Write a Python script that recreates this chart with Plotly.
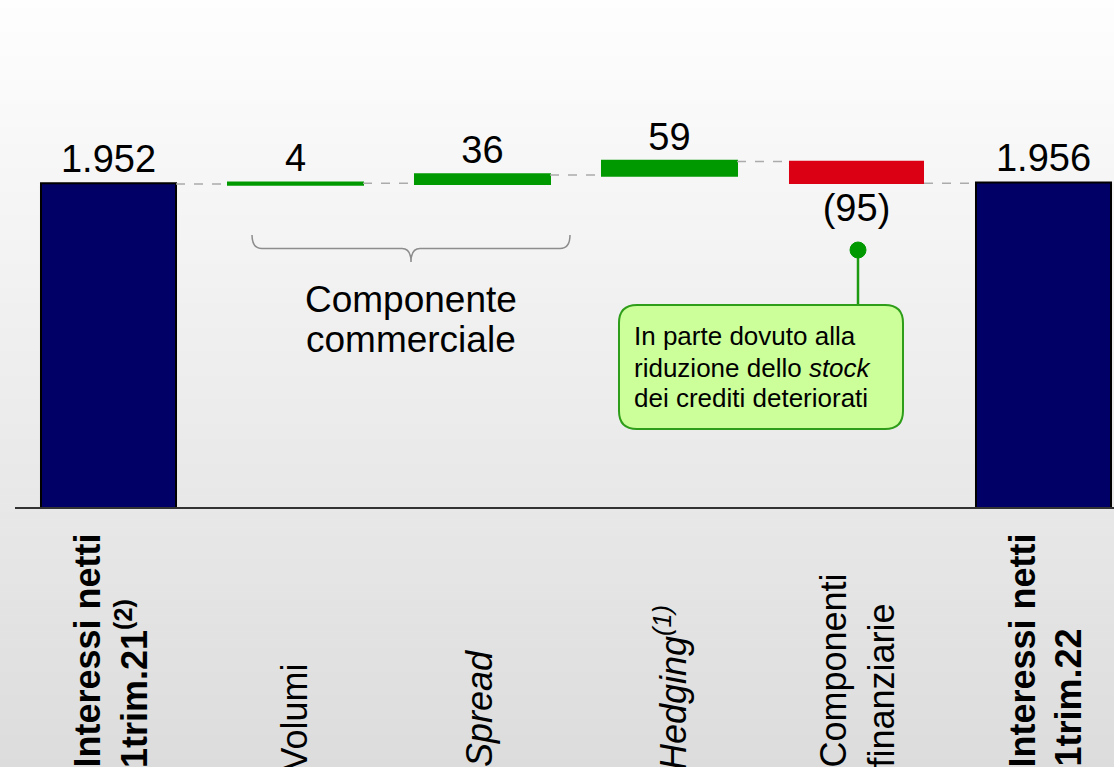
import plotly.graph_objects as go

# ---------------- data ----------------
categories = ["Interessi netti 1trim.21", "Volumi", "Spread", "Hedging",
              "Componenti finanziarie", "Interessi netti 1trim.22"]
measures = ["absolute", "relative", "relative", "relative", "relative", "total"]
values = [1952, 4, 36, 59, -95, 0]

axis_label_lines = [
    ["<b>Interessi netti</b>", "<b>1trim.21<sup>(2)</sup></b>"],
    ["Volumi"],
    ["<i>Spread</i>"],
    ["<i>Hedging<sup>(1)</sup></i>"],
    ["Componenti", "finanziarie"],
    ["<b>Interessi netti</b>", "<b>1trim.22</b>"],
]
group_label_lines = ["Componente", "commerciale"]
callout_lines = ["In parte dovuto alla", "riduzione dello <i>stock</i>", "dei crediti deteriorati"]


def fmt(v):
    s = f"{abs(v):,}".replace(",", ".")
    return f"({s})" if v < 0 else s


running = 0
value_text = []
for m, v in zip(measures, values):
    if m == "absolute":
        running = v
        value_text.append(fmt(v))
    elif m == "relative":
        running += v
        value_text.append(fmt(v))
    else:
        value_text.append(fmt(running))

# ---------------- layout geometry ----------------
W, H = 1114, 767
ML, MR, MT, MB = 15, 0, 27, 260
PW, PH = W - ML - MR, H - MT - MB
FONT = "Arial, Liberation Sans, sans-serif"


def pxx(x):
    return (x - ML) / PW


def pxy(y):
    return (H - MB - y) / PH


fig = go.Figure()
fig.add_trace(go.Waterfall(
    x=categories, y=values, measure=measures,
    text=value_text, textposition="outside",
    textfont=dict(family=FONT, size=38, color="#000000"),
    cliponaxis=False,
    increasing=dict(marker=dict(color="#009900", line=dict(color="#009900", width=2))),
    decreasing=dict(marker=dict(color="#DC0014", line=dict(width=0))),
    totals=dict(marker=dict(color="#000066", line=dict(color="#000000", width=2))),
    connector=dict(line=dict(color="#ABABAB", width=1.5, dash="dash")),
    hoverinfo="skip",
))

shapes = []
# background vertical gradient
N = 96
for i in range(N):
    y0 = i * H / N
    y1 = (i + 1) * H / N
    ym = (y0 + y1) / 2
    c = int(round(254 - 0.044 * ym))
    shapes.append(dict(type="rect", xref="paper", yref="paper",
                       x0=pxx(0), x1=pxx(W), y0=pxy(y1 + 0.5), y1=pxy(y0),
                       fillcolor=f"rgb({c},{c},{c})", line=dict(width=0), layer="below"))


def path(points):
    out = []
    for cmd, pts in points:
        seg = cmd + " " + " ".join(f"{pxx(px):.5f},{pxy(py):.5f}" for px, py in pts)
        out.append(seg)
    return " ".join(out)


# brace under "Volumi" and "Spread"
brace = path([
    ("M", [(252, 235)]),
    ("Q", [(252, 248.5), (262, 248.5)]),
    ("L", [(402, 248.5)]),
    ("Q", [(411, 248.5), (411, 262)]),
    ("Q", [(411, 248.5), (420, 248.5)]),
    ("L", [(560, 248.5)]),
    ("Q", [(570, 248.5), (570, 235)]),
])
shapes.append(dict(type="path", xref="paper", yref="paper", path=brace,
                   line=dict(color="#8C8C8C", width=1.5)))

# callout box
bx0, bx1, by0, by1, r = 619, 903, 305, 429, 18
box = path([
    ("M", [(bx0 + r, by0)]),
    ("L", [(bx1 - r, by0)]),
    ("Q", [(bx1, by0), (bx1, by0 + r)]),
    ("L", [(bx1, by1 - r)]),
    ("Q", [(bx1, by1), (bx1 - r, by1)]),
    ("L", [(bx0 + r, by1)]),
    ("Q", [(bx0, by1), (bx0, by1 - r)]),
    ("L", [(bx0, by0 + r)]),
    ("Q", [(bx0, by0), (bx0 + r, by0)]),
]) + " Z"
shapes.append(dict(type="line", xref="paper", yref="paper",
                   x0=pxx(858), x1=pxx(858), y0=pxy(250), y1=pxy(305),
                   line=dict(color="#1E9A10", width=2.5)))
shapes.append(dict(type="path", xref="paper", yref="paper", path=box,
                   fillcolor="#CCFF99", line=dict(color="#2E9E1A", width=2)))
shapes.append(dict(type="circle", xref="paper", yref="paper",
                   x0=pxx(850), x1=pxx(866), y0=pxy(258), y1=pxy(242),
                   fillcolor="#009900", line=dict(color="#009900", width=1)))

annotations = []
# rotated category labels (tops in px, x offset in px per line)
label_tops = [[532, 597], [662], [648], [603], [572, 602], [532, 627]]
label_shift = [[-22, 23], [-2], [-3], [1], [-24, 24], [-22, 24]]
for cat, lines, tops, shifts in zip(categories, axis_label_lines, label_tops, label_shift):
    for txt, top, sh in zip(lines, tops, shifts):
        annotations.append(dict(
            xref="x", yref="paper", x=cat, y=pxy(top), xshift=sh,
            xanchor="center", yanchor="top", textangle=-90, showarrow=False,
            text=txt, font=dict(family=FONT, size=36, color="#000000")))

# group label
for txt, base in zip(group_label_lines, [312, 352]):
    annotations.append(dict(
        xref="paper", yref="paper", x=pxx(411), y=pxy(base - 0.35 * 37),
        xanchor="center", yanchor="middle", showarrow=False, text=txt,
        font=dict(family=FONT, size=37, color="#000000")))

# callout text
for txt, base in zip(callout_lines, [345, 377, 407]):
    annotations.append(dict(
        xref="paper", yref="paper", x=pxx(632), y=pxy(base - 0.35 * 26),
        xanchor="left", yanchor="middle", showarrow=False, text=txt,
        font=dict(family=FONT, size=26, color="#000000")))

fig.update_layout(
    width=W, height=H,
    margin=dict(l=ML, r=MR, t=MT, b=MB, autoexpand=False),
    paper_bgcolor="#EEEEEE", plot_bgcolor="rgba(0,0,0,0)",
    showlegend=False, waterfallgap=0.278,
    shapes=shapes, annotations=annotations,
    xaxis=dict(range=[-0.5, -0.5 + PW / 187.0], showline=True, linecolor="#333333",
               linewidth=2, showgrid=False, zeroline=False, ticks="",
               showticklabels=False, fixedrange=True),
    yaxis=dict(range=[532, 532 + PH / 0.2274], visible=False, fixedrange=True),
)

fig.write_html(
    "out.html",
    config={"displayModeBar": False},
    post_script="document.body.style.margin='0';document.body.style.overflow='hidden';",
)
